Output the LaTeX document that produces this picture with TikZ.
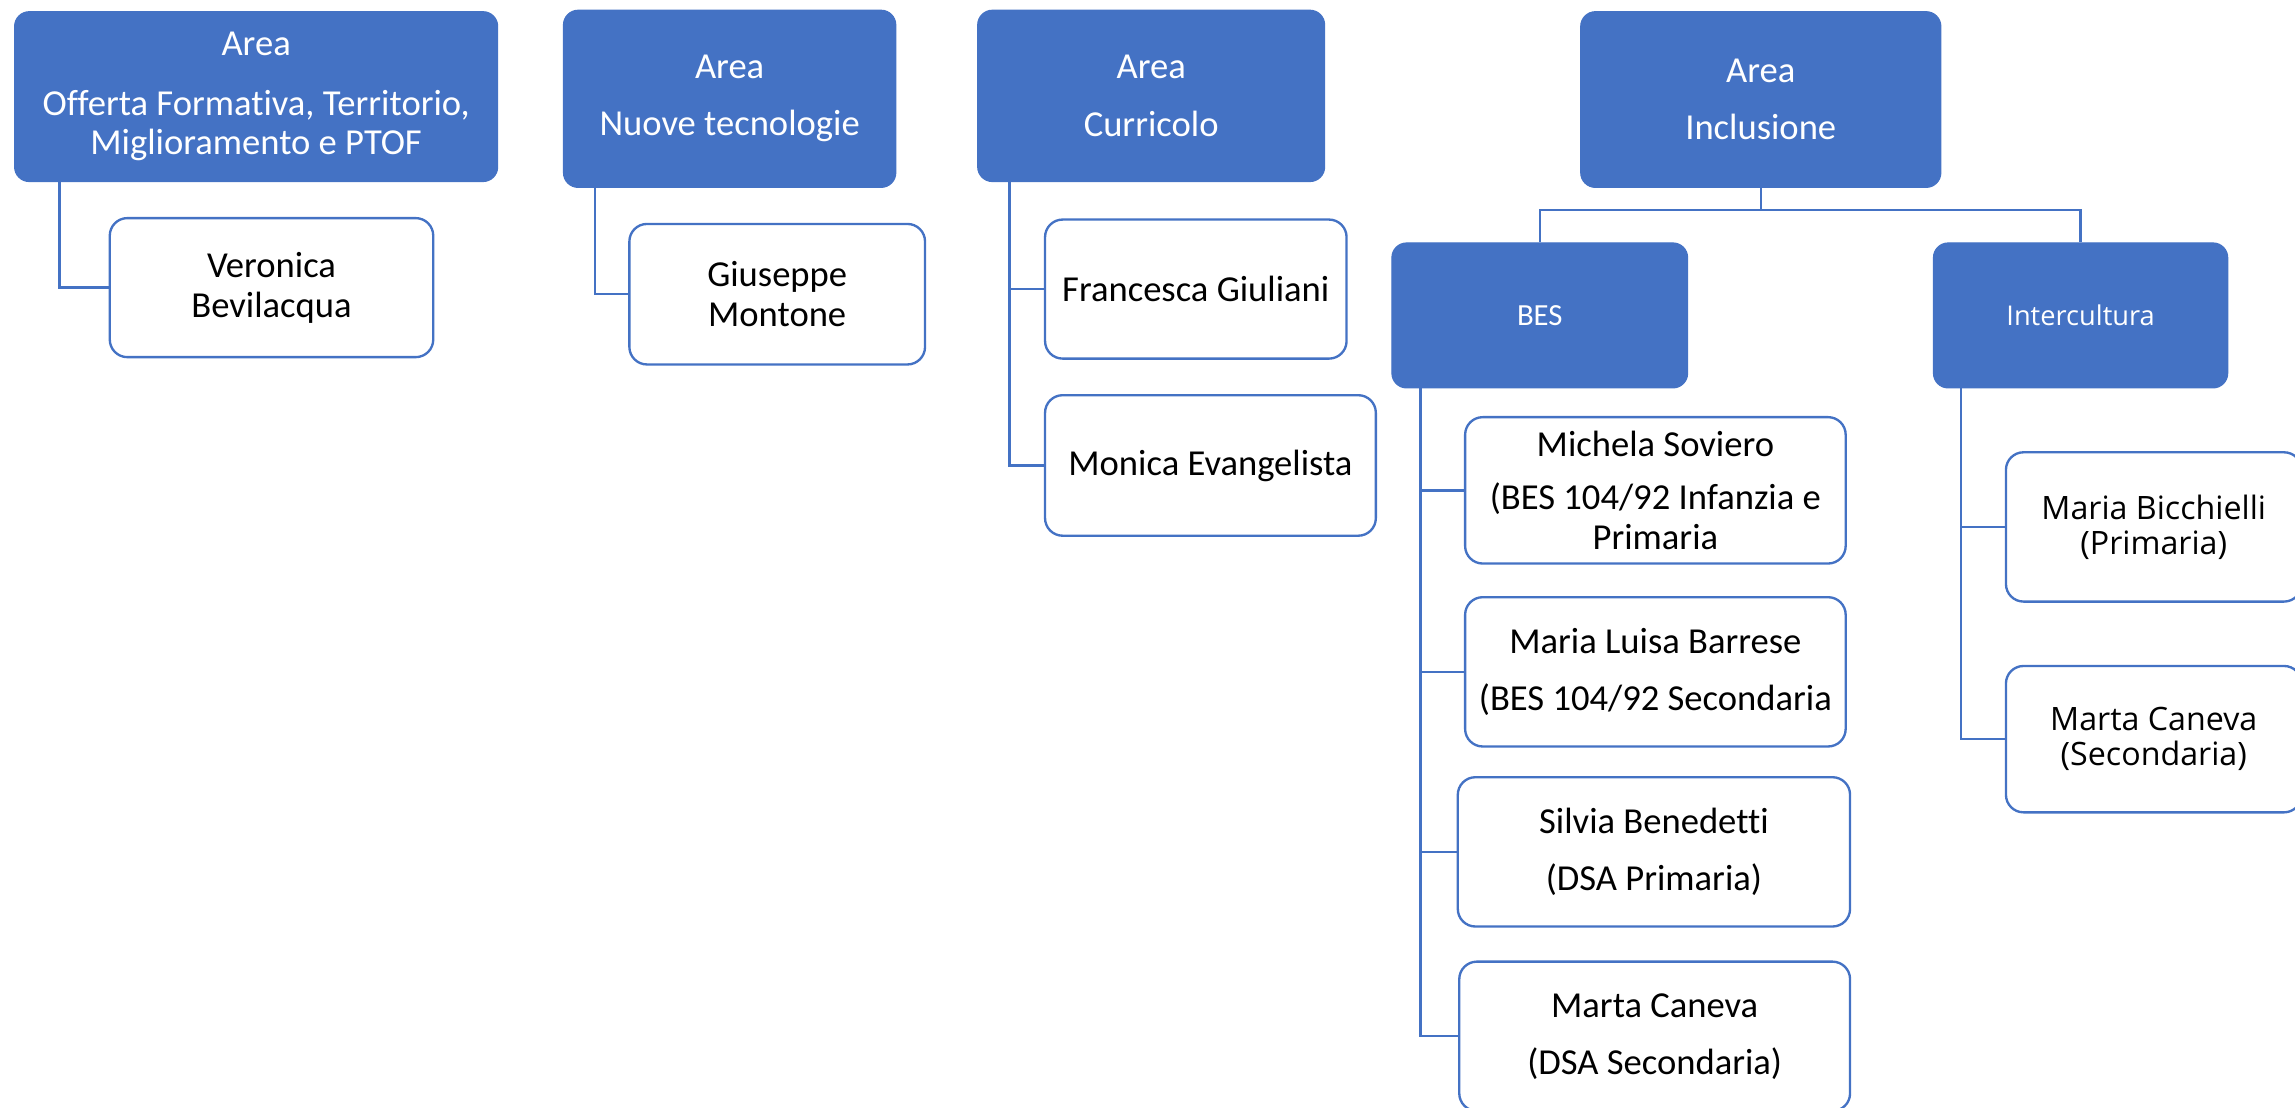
\documentclass[tikz,border=0pt]{standalone}
\usepackage{fontspec}
\setmainfont[Ligatures=NoCommon]{Carlito}
\newfontfamily\segoefont{Open Sans}
\definecolor{officeblue}{HTML}{4472C4}

\begin{document}
\begin{tikzpicture}[x=0.5pt, y=-0.5pt,
    areabox/.style={rectangle, rounded corners=5pt, fill=officeblue, draw=officeblue, text=white, align=center, inner sep=0pt, font=\fontsize{12.5}{13.5}\selectfont},
    namebox/.style={rectangle, rounded corners=6pt, fill=white, draw=officeblue, line width=0.8pt, align=center, inner sep=0pt, font=\fontsize{12.5}{13.5}\selectfont},
    link/.style={draw=officeblue, line width=0.8pt}]

\useasboundingbox (0,0) rectangle (1568,757);
\clip (0,0) rectangle (1568,757);

% first three areas
\node[areabox, minimum width=165pt, minimum height=58pt] (offerta) at (175,66) {Area\\[7pt]Offerta Formativa, Territorio,\\Miglioramento e PTOF};
\node[namebox, minimum width=110.5pt, minimum height=47.5pt] (veronica) at (185.5,196.5) {Veronica\\Bevilacqua};
\draw[link] ([xshift=15.5pt]offerta.south west) |- (veronica.west);

\node[areabox, minimum width=113.5pt, minimum height=60.5pt] (tecnologie) at (498.5,67.5) {Area\\[6pt]Nuove tecnologie};
\node[namebox, minimum width=101pt, minimum height=48pt] (giuseppe) at (531,201) {Giuseppe\\Montone};
\draw[link] ([xshift=11pt]tecnologie.south west) |- (giuseppe.west);

\node[areabox, minimum width=118.5pt, minimum height=58.5pt] (curricolo) at (786.5,65.5) {Area\\[6pt]Curricolo};
\node[namebox, minimum width=103pt, minimum height=47.5pt] (francesca) at (817,197.5) {Francesca Giuliani};
\node[namebox, minimum width=113pt, minimum height=48pt] (monica) at (827,318) {Monica Evangelista};
\draw[link] ([xshift=11pt]curricolo.south west) |- (monica.west);
\draw[link] ([xshift=11pt]curricolo.south west) |- (francesca.west);

% inclusione
\node[areabox, minimum width=123pt, minimum height=60pt] (inclusione) at (1203,68) {Area\\[6pt]Inclusione};
\node[areabox, minimum width=101pt, minimum height=49.5pt, font=\fontsize{10.5}{12}\selectfont] (bes) at (1052,215.5) {BES};
\node[areabox, minimum width=100.5pt, minimum height=49.5pt, font=\segoefont\fontsize{9.3}{11}\selectfont] (intercultura) at (1421.5,215.5) {Intercultura};
\coordinate (incljoint) at ([yshift=-7.5pt]inclusione.south);
\draw[link] (inclusione.south) -- (incljoint);
\draw[link] (bes.north) |- (incljoint) -| (intercultura.north);

\node[namebox, minimum width=130pt, minimum height=50pt] (soviero) at (1131,335) {Michela Soviero\\[4.5pt](BES 104/92 Infanzia e\\Primaria};
\node[namebox, minimum width=130pt, minimum height=51pt] (barrese) at (1131,459) {Maria Luisa Barrese\\[6pt](BES 104/92 Secondaria};
\node[namebox, minimum width=134pt, minimum height=51pt] (benedetti) at (1130,582) {Silvia Benedetti\\[6pt](DSA Primaria)};
\node[namebox, minimum width=133.5pt, minimum height=51pt] (canevadsa) at (1130.5,708) {Marta Caneva\\[6pt](DSA Secondaria)};
\draw[link] ([xshift=10pt]bes.south west) |- (canevadsa.west);
\foreach \person in {soviero, barrese, benedetti}
    \draw[link] ([xshift=10pt]bes.south west) |- (\person.west);

\node[namebox, minimum width=101pt, minimum height=51pt, font=\segoefont\fontsize{11}{12}\selectfont] (bicchielli) at (1471.5,360) {Maria Bicchielli\\(Primaria)};
\node[namebox, minimum width=101pt, minimum height=50pt, font=\segoefont\fontsize{11}{12}\selectfont] (canevasec) at (1471.5,505) {Marta Caneva\\(Secondaria)};
\draw[link] ([xshift=9.5pt]intercultura.south west) |- (canevasec.west);
\draw[link] ([xshift=9.5pt]intercultura.south west) |- (bicchielli.west);

\end{tikzpicture}
\end{document}
